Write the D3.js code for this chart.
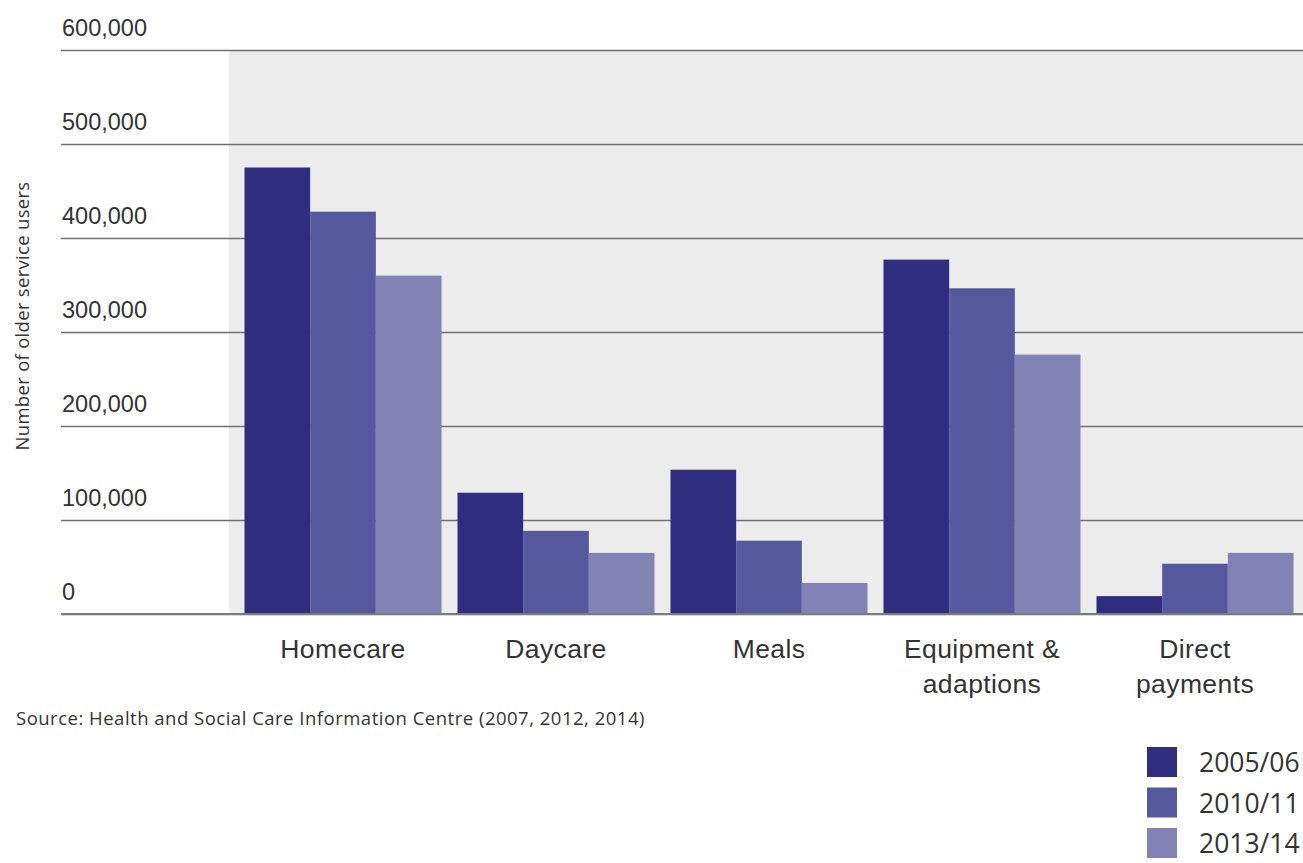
<!DOCTYPE html>
<html>
<head>
<meta charset="utf-8">
<script src="https://cdn.jsdelivr.net/npm/d3@7"></script>
<style>
  html, body { margin: 0; padding: 0; background: #fff; }
  svg { display: block; font-family: "Open Sans", "DejaVu Sans", sans-serif; }
</style>
</head>
<body>
<svg id="chart" width="1303" height="863"></svg>
<script>
// Older service users by service type (thousands)
const categories = ["Homecare", "Daycare", "Meals", "Equipment & adaptions", "Direct payments"];
const categoryLines = [["Homecare"], ["Daycare"], ["Meals"], ["Equipment &", "adaptions"], ["Direct", "payments"]];
const seriesNames = ["2005/06", "2010/11", "2013/14"];
const values2005 = [475, 129, 153.5, 377, 19];
const values2010 = [428, 88.5, 78, 346.5, 53.5];
const values2013 = [360, 65, 33, 276, 65];
const tickValues = [0, 100, 200, 300, 400, 500, 600];
const tickLabels = ["0", "100,000", "200,000", "300,000", "400,000", "500,000", "600,000"];
const colors = ["#2e2d80", "#55589d", "#8283b5"];

const seriesValues = [values2005, values2010, values2013];
const rows = categories.map((c, i) => ({
  category: c,
  values: seriesNames.map((s, j) => ({ series: s, value: seriesValues[j][i] }))
}));

const svg = d3.select("#chart");
const W = 1303;
const gridLeft = 61;

const y = d3.scaleLinear().domain([0, 600]).range([614, 50]);
const x = d3.scaleBand().domain(categories).range([236.5, 1301.5])
  .paddingInner(0.075).paddingOuter(0.0375);
const xs = d3.scaleBand().domain(seriesNames).range([0, x.bandwidth()]);
const color = d3.scaleOrdinal().domain(seriesNames).range(colors);

// shaded plot panel
svg.append("rect")
  .attr("x", 229).attr("y", y(600))
  .attr("width", W - 229).attr("height", y(0) - y(600))
  .attr("fill", "#ececec");

// gridlines with labels sitting above each line
const yAxis = d3.axisLeft(y)
  .tickValues(tickValues)
  .tickSize(-(W - gridLeft))
  .tickFormat((d, i) => tickLabels[i]);
const gy = svg.append("g")
  .attr("transform", `translate(${gridLeft},0)`)
  .call(yAxis);
gy.select(".domain").remove();
gy.selectAll(".tick line")
  .attr("stroke", "#6f6f6f")
  .attr("stroke-width", 1.6);
gy.selectAll(".tick text")
  .attr("x", 1)
  .attr("dy", -15)
  .attr("text-anchor", "start")
  .attr("fill", "#333")
  .style("font-size", "23.5px");

// bars
const groups = svg.append("g").selectAll("g")
  .data(rows)
  .join("g")
  .attr("transform", d => `translate(${x(d.category)},0)`);
groups.selectAll("rect")
  .data(d => d.values)
  .join("rect")
  .attr("x", d => xs(d.series))
  .attr("width", xs.bandwidth())
  .attr("y", d => y(d.value))
  .attr("height", d => y(0) - y(d.value))
  .attr("fill", d => color(d.series));

// baseline drawn over bar feet
svg.append("line")
  .attr("x1", gridLeft).attr("x2", W)
  .attr("y1", y(0)).attr("y2", y(0))
  .attr("stroke", "#7a7a7a").attr("stroke-width", 2);

// category labels
const xAxis = d3.axisBottom(x).tickSize(0).tickFormat("");
const gx = svg.append("g").attr("transform", `translate(0,${y(0)})`).call(xAxis);
gx.select(".domain").remove();
gx.selectAll(".tick").each(function(d, i) {
  const t = d3.select(this).append("text")
    .attr("text-anchor", "middle")
    .attr("fill", "#333")
    .style("font-size", "26.5px")
    .style("letter-spacing", "0.4px");
  categoryLines[i].forEach((line, k) => {
    t.append("tspan").attr("x", 0).attr("y", 44 + k * 35).text(line);
  });
});

// axis title
svg.append("text")
  .attr("transform", "translate(29,316) rotate(-90)")
  .attr("text-anchor", "middle")
  .attr("fill", "#333")
  .style("font-size", "18.5px")
  .style("letter-spacing", "0.3px")
  .text("Number of older service users");

// source note
svg.append("text")
  .attr("x", 16).attr("y", 725)
  .attr("fill", "#333")
  .style("font-size", "18.5px")
  .style("letter-spacing", "0.5px")
  .text("Source: Health and Social Care Information Centre (2007, 2012, 2014)");

// legend
const legend = svg.append("g").selectAll("g")
  .data(seriesNames)
  .join("g")
  .attr("transform", (d, i) => `translate(1147,${747 + i * 40.5})`);
legend.append("rect")
  .attr("width", 30).attr("height", 30)
  .attr("fill", d => color(d));
legend.append("text")
  .attr("x", 52).attr("y", 25)
  .attr("fill", "#333")
  .style("font-size", "26.5px")
  .text(d => d);
</script>
</body>
</html>
